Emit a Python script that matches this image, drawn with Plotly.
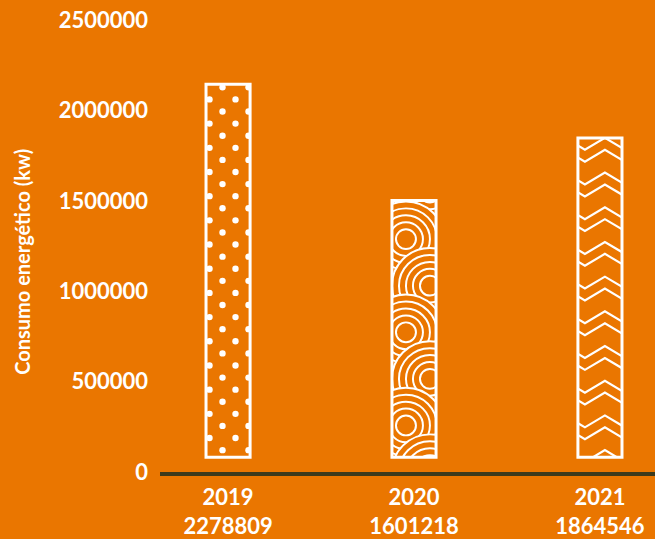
import base64
import plotly.graph_objects as go

# data
years = ["2019", "2020", "2021"]
consumo = [2278809, 1601218, 1864546]        # values printed under each bar
bar_top = [2144000, 1502000, 1848000]        # where the bars end on the axis
bar_base = [82000, 82000, 82000]             # bars float slightly above 0
patterns = ["dots", "circles", "chevrons"]

BG = "#EA7600"
WHITE = "#FFFFFF"
AXIS_DARK = "#3C3A1C"

W, H = 655, 539
M_L, M_R, M_T, M_B = 160, 0, 20, 63
Y_MAX = 2500000
X_RANGE = [-0.366, 2.296]
BAR_W = 0.237

px_y = (H - M_T - M_B) / Y_MAX
px_x = (W - M_L - M_R) / (X_RANGE[1] - X_RANGE[0])


def svg_uri(body, w, h):
    svg = (f'<svg xmlns="http://www.w3.org/2000/svg" width="{w:.1f}" height="{h:.1f}" '
           f'viewBox="0 0 {w:.1f} {h:.1f}" preserveAspectRatio="none">'
           f'<defs><clipPath id="c"><rect x="0" y="0" width="{w:.1f}" height="{h:.1f}"/></clipPath></defs>'
           f'<g clip-path="url(#c)">{body}</g></svg>')
    return "data:image/svg+xml;base64," + base64.b64encode(svg.encode()).decode()


def dots(w, h):
    out = []
    row = 0
    y = 3.0
    while y < h + 6:
        xs = [16.5, 42.5] if row % 2 == 0 else [3.5, 29.5]
        for x in xs:
            out.append(f'<circle cx="{x:.1f}" cy="{y:.1f}" r="3.2" fill="{WHITE}"/>')
        y += 12.2
        row += 1
    return "".join(out)


def circles(w, h):
    # fish-scale rings, drawn top to bottom so each row hides part of the one above
    out = []
    j = 0
    y = -8.0
    while y < h + 45:
        cx = 38 if j % 2 == 0 else 14
        for k, r in enumerate([38, 31, 24, 17, 10]):
            fill = BG if k == 0 else "none"
            out.append(f'<circle cx="{cx}" cy="{y:.1f}" r="{r}" fill="{fill}" '
                       f'stroke="{WHITE}" stroke-width="2"/>')
        y += 47
        j += 1
    return "".join(out)


def chevrons(w, h):
    out = []
    y = 0.0
    while y < h + 20:
        for dy in (0, 12):
            yy = y + dy
            pts = [(-13, yy), (7, yy + 12), (27, yy), (47, yy + 12), (67, yy)]
            d = " ".join(f"{px:.1f},{py:.1f}" for px, py in pts)
            out.append(f'<polyline points="{d}" fill="none" stroke="{WHITE}" stroke-width="2.2"/>')
        y += 35
    return "".join(out)


drawers = {"dots": dots, "circles": circles, "chevrons": chevrons}

fig = go.Figure()

fig.add_trace(go.Bar(
    x=list(range(len(years))),
    y=[t - b for t, b in zip(bar_top, bar_base)],
    base=bar_base,
    width=BAR_W,
    marker=dict(color="rgba(0,0,0,0)", line=dict(color=WHITE, width=3)),
    hoverinfo="skip",
    showlegend=False,
))

images = []
for i, (t, b, p) in enumerate(zip(bar_top, bar_base, patterns)):
    w_px = BAR_W * px_x
    h_px = (t - b) * px_y
    images.append(dict(
        source=svg_uri(drawers[p](w_px, h_px), w_px, h_px),
        xref="x", yref="y", x=i - BAR_W / 2, y=t,
        sizex=BAR_W, sizey=t - b, sizing="stretch",
        xanchor="left", yanchor="top", layer="below",
    ))

fig.update_layout(
    width=W, height=H,
    margin=dict(l=M_L, r=M_R, t=M_T, b=M_B),
    paper_bgcolor=BG, plot_bgcolor=BG,
    font=dict(family="Lato", color=WHITE, size=22, weight="bold"),
    images=images,
    xaxis=dict(
        range=X_RANGE,
        tickvals=list(range(len(years))),
        ticktext=[f"{y}<br>{v}" for y, v in zip(years, consumo)],
        showgrid=False, zeroline=False,
        showline=True, linecolor=AXIS_DARK, linewidth=4,
        ticks="", ticklabelstandoff=3,
        fixedrange=True,
    ),
    yaxis=dict(
        range=[0, Y_MAX],
        tickvals=[0, 500000, 1000000, 1500000, 2000000, 2500000],
        ticktext=["0", "500000", "1000000", "1500000", "2000000", "2500000"],
        showgrid=False, zeroline=False, showline=False,
        ticks="", ticklabelstandoff=11,
        automargin=False,
        fixedrange=True,
    ),
    annotations=[dict(
        text="Consumo energético (kw)", textangle=-90,
        xref="paper", yref="paper", x=(22 - M_L) / (W - M_L - M_R), y=0.465,
        xanchor="center", yanchor="middle", showarrow=False,
        font=dict(size=20, weight="bold", color=WHITE),
    )],
)

fig.write_html("out.html", config={"displayModeBar": False},
               post_script="document.body.style.margin='0';")
